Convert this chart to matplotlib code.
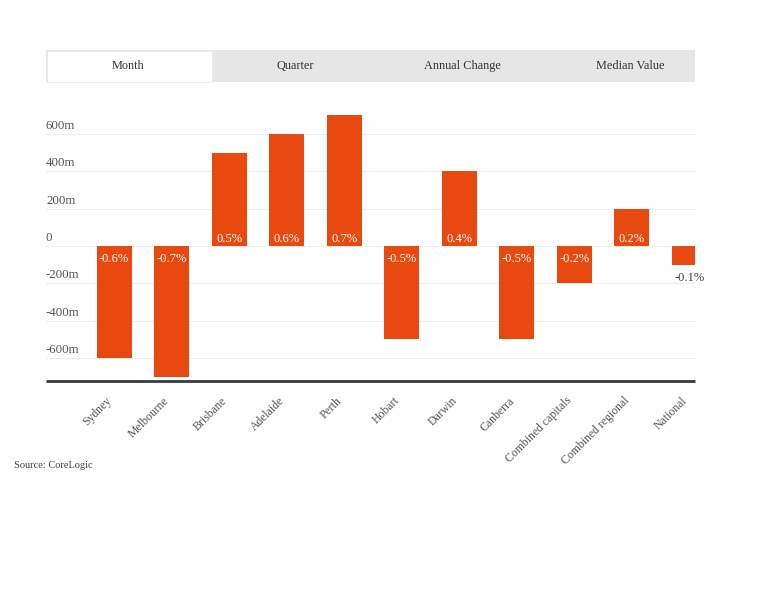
import matplotlib
matplotlib.use("Agg")
import matplotlib.pyplot as plt
from matplotlib.patches import Rectangle
import matplotlib.transforms as mtransforms

categories = ["Sydney", "Melbourne", "Brisbane", "Adelaide", "Perth", "Hobart",
              "Darwin", "Canberra", "Combined capitals", "Combined regional", "National"]
values = [-0.6, -0.7, 0.5, 0.6, 0.7, -0.5, 0.4, -0.5, -0.2, 0.2, -0.1]
yticks = [0.6, 0.4, 0.2, 0.0, -0.2, -0.4, -0.6]
ytick_labels = ["600m", "400m", "200m", "0", "-200m", "-400m", "-600m"]
tabs = ["Month", "Quarter", "Annual Change", "Median Value"]
source = "Source: CoreLogic"

BAR = "#e8490f"
W, H = 768, 614
plt.rcParams['font.family'] = ['Liberation Serif', 'DejaVu Serif']

fig = plt.figure(figsize=(W/100, H/100), dpi=100)
fig.patch.set_facecolor("white")

def fx(px): return px / W
def fy(py): return 1 - py / H

# Tabs
tab_left, tab_right, tab_top, tab_bot = 46, 695, 50, 82
tw = 167.3
fig.patches.append(Rectangle((fx(tab_left), fy(tab_bot)), fx(tab_right - tab_left),
                             fy(tab_top) - fy(tab_bot), transform=fig.transFigure,
                             facecolor="#e6e6e6", edgecolor="none", zorder=0))
fig.patches.append(Rectangle((fx(tab_left + 1), fy(tab_bot)), fx(165),
                             fy(tab_top + 1) - fy(tab_bot), transform=fig.transFigure,
                             facecolor="white", edgecolor="#e9e9e9", linewidth=0.6, zorder=1))
for i, t in enumerate(tabs):
    fig.text(fx(44.5 + tw * (i + 0.5)), fy(66), t, ha="center", va="center",
             fontsize=8.8, color="#333333")

# Axes
ax_left, ax_right, ax_top, ax_bot = 46, 695, 100, 381
ax = fig.add_axes([fx(ax_left), fy(ax_bot), fx(ax_right - ax_left), fy(ax_top) - fy(ax_bot)])
x = list(range(len(categories)))
ax.bar(x, values, width=0.61, color=BAR, zorder=3)
ax.set_xlim(-1.183, 10.10)
ax.set_ylim(-0.723, 0.782)

for s in ["top", "right", "left"]:
    ax.spines[s].set_visible(False)
ax.spines["bottom"].set_color("#333a40")
ax.spines["bottom"].set_linewidth(2)
ax.spines["bottom"].set_capstyle("butt")

ax.set_yticks(yticks)
ax.set_yticklabels([])
ax.tick_params(axis="y", length=0)
ax.grid(axis="y", color="#eeeeee", linewidth=0.8, zorder=0)
trans = mtransforms.blended_transform_factory(ax.transAxes, ax.transData)
offset = mtransforms.offset_copy(trans, fig=fig, x=0, y=1.5, units="points")
for v, lab in zip(yticks, ytick_labels):
    ax.text(0.0, v, lab, transform=offset, ha="left", va="bottom", fontsize=9.3, color="#555555")

ax.set_xticks(x)
ax.set_xticklabels(categories, rotation=45, ha="right", va="center", rotation_mode="anchor",
                   fontsize=8.5, color="#555555")
ax.tick_params(axis="x", length=0, pad=13)
shift = mtransforms.ScaledTranslation(-4 / 100, 0, fig.dpi_scale_trans)
for lbl in ax.get_xticklabels():
    lbl.set_transform(lbl.get_transform() + shift)

for xi, v in zip(x, values):
    lab = f"{v:.1f}%"
    if abs(v) >= 0.15:
        if v > 0:
            ax.annotate(lab, (xi, 0), xytext=(0, 0.5), textcoords="offset points",
                        ha="center", va="bottom", color="white", fontsize=9, zorder=4)
        else:
            ax.annotate(lab, (xi, 0), xytext=(0, -5), textcoords="offset points",
                        ha="center", va="top", color="white", fontsize=9, zorder=4)
    else:
        ax.annotate(lab, (xi, v), xytext=(0, -5), textcoords="offset points",
                    ha="center", va="top", color="#444444", fontsize=9, zorder=4,
                    annotation_clip=False)

fig.text(fx(14), fy(466), source, ha="left", va="center", fontsize=7.5, color="#444444")

fig.savefig("out.png", dpi=100, facecolor="white")
